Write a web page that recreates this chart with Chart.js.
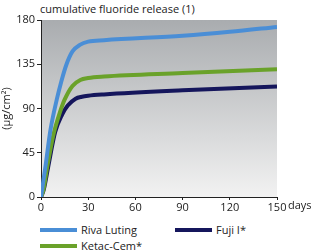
<!DOCTYPE html>
<html><head><meta charset="utf-8">
<script src="https://cdn.jsdelivr.net/npm/chart.js@4"></script>
<style>
body{margin:0;background:#fff;font-family:"Open Sans",sans-serif;}
#wrap{position:relative;width:313px;height:252px;}
#title{position:absolute;left:40px;top:1px;font-size:11px;color:#222;}
canvas{position:absolute;left:0;top:0;}
.leg{position:absolute;font-size:11px;color:#222;white-space:nowrap;}
.leg span.sw{display:inline-block;width:37px;height:4px;vertical-align:middle;margin-right:4px;position:relative;top:-1px;}
</style></head>
<body><div id="wrap">
<div id="title">cumulative fluoride release (1)</div>
<canvas id="c" width="313" height="215"></canvas>
<div id="legend"></div>
</div>
<script>
const rivaDays = [0, 3, 6, 10, 13, 16, 20, 25, 30, 40, 90, 120, 150];
const rivaLuting = [0, 33, 68, 99, 118, 134, 148, 155, 158, 159.5, 164, 168, 173];
const ketacDays = [0, 1.5, 4, 8, 12, 15, 20, 25, 30, 40, 90, 150];
const ketacCem = [0, 7, 31, 64, 86, 99, 113, 119, 121, 122.5, 126, 130];
const fujiDays = [0, 1.7, 4.6, 9, 13.5, 17, 22, 26, 30, 40, 90, 150];
const fujiI = [0, 7, 31, 66, 84, 93, 100, 102, 103, 104.3, 108.5, 112.5];
const yTicks = [0, 45, 90, 135, 180];
const xTicks = [0, 30, 60, 90, 120, 150];
const seriesNames = ['Riva Luting', 'Ketac-Cem*', 'Fuji I*'];
const seriesColors = ['#4a8ed6', '#6aa22a', '#15165c'];
const seriesDays = [rivaDays, ketacDays, fujiDays];
const seriesValues = [rivaLuting, ketacCem, fujiI];

const datasets = seriesNames.map((n, i) => ({
  label: n,
  data: seriesDays[i].map((d, j) => ({x: d, y: seriesValues[i][j]})),
  borderColor: seriesColors[i],
  borderWidth: 4,
  pointRadius: 0,
  fill: false,
  cubicInterpolationMode: 'monotone'
}));

const bgPlugin = {
  id: 'bg',
  beforeDraw(chart) {
    const {ctx, chartArea: a} = chart;
    const g = ctx.createLinearGradient(0, a.top, 0, a.bottom);
    g.addColorStop(0, '#a9acaf');
    g.addColorStop(1, '#f2f2f2');
    ctx.save(); ctx.fillStyle = g;
    ctx.fillRect(a.left, a.top, a.right - a.left, a.bottom - a.top);
    ctx.restore();
  },
  afterDraw(chart) {
    const {ctx} = chart;
    const xs = chart.scales.x;
    const px = xs.getPixelForValue(150);
    ctx.save();
    ctx.font = '11px "Open Sans"';
    ctx.fillStyle = '#222';
    ctx.textBaseline = 'middle';
    ctx.fillText('days', px + 11, xs.top + 9);
    ctx.restore();
  }
};

new Chart(document.getElementById('c'), {
  type: 'line',
  data: {datasets},
  plugins: [bgPlugin],
  options: {
    responsive: false,
    animation: false,
    layout: {padding: {top: 20, right: 36, left: 0, bottom: 0}},
    plugins: {legend: {display: false}, tooltip: {enabled: false}},
    scales: {
      x: {
        type: 'linear', min: 0, max: 150,
        afterBuildTicks(s) { s.ticks = xTicks.map(v => ({value: v})); },
        ticks: {font: {family: 'Open Sans', size: 11}, color: '#222', padding: 1, maxRotation: 0},
        grid: {drawOnChartArea: false, tickLength: 3, color: '#222'},
        border: {color: '#222', width: 1},
        afterFit(s) { s.height = 18; }
      },
      y: {
        min: 0, max: 180,
        afterBuildTicks(s) { s.ticks = yTicks.map(v => ({value: v})); },
        ticks: {font: {family: 'Open Sans', size: 11}, color: '#222', padding: 2},
        grid: {drawOnChartArea: false, tickLength: 4, color: '#222'},
        border: {color: '#222', width: 1},
        title: {display: true, text: '(µg/cm²)', font: {family: 'Open Sans', size: 11}, color: '#222', padding: 0},
        afterFit(s) { s.width = 41; }
      }
    }
  }
});

const legend = document.getElementById('legend');
const legPos = [[40, 222], [40, 238], [175, 222]];
seriesNames.forEach((n, i) => {
  const d = document.createElement('div');
  d.className = 'leg';
  d.style.left = legPos[i][0] + 'px';
  d.style.top = legPos[i][1] + 'px';
  d.innerHTML = '<span class="sw" style="background:' + seriesColors[i] + '"></span>' + n;
  legend.appendChild(d);
});
</script>
</body></html>
